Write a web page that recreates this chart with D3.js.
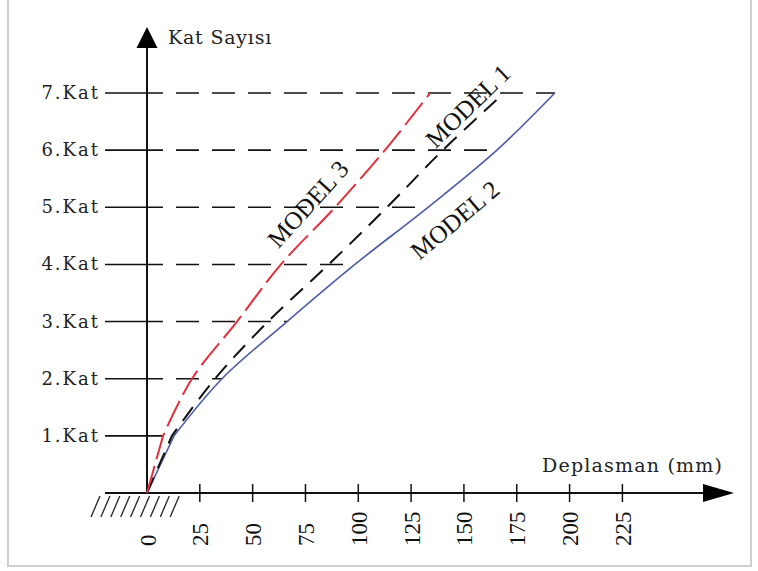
<!DOCTYPE html>
<html><head><meta charset="utf-8">
<script src="https://cdn.jsdelivr.net/npm/d3@7"></script>
<style>body{margin:0;background:#fff}svg{display:block}</style>
</head><body>
<script>
const floors = [0,1,2,3,4,5,6,7];
const floorLabels = ["","1.Kat","2.Kat","3.Kat","4.Kat","5.Kat","6.Kat","7.Kat"];
const xTicks = [0,25,50,75,100,125,150,175,200,225];
const model1 = [0,11.8,32.2,57.3,86,113.6,140,169];   // black dashed
const model2 = [0,12.8,35.5,66.3,98.4,133,165.6,193]; // blue solid
const model3 = [0,7.6,21.3,42.6,63.4,89,112.6,134];   // red dashed
const seriesNames = ["MODEL 1","MODEL 2","MODEL 3"];

const W=758,H=571;
const svg=d3.select("body").append("svg").attr("width",W).attr("height",H);
svg.append("rect").attr("x",8).attr("y",-2).attr("width",743).attr("height",568)
  .attr("fill","#fff").attr("stroke","#cfcfcf").attr("stroke-width",2);

const x=d3.scaleLinear().domain([0,225]).range([147,622.4]);
const y=d3.scaleLinear().domain([0,7]).range([493,93]);
const serif="'DejaVu Serif', serif";
const times="'Liberation Serif', 'Times New Roman', serif";

// floor reference lines
const fl = floors.slice(1);
const g = svg.append("g");
g.selectAll(".solid").data(fl).join("line")
  .attr("x1",105).attr("x2",d=>Math.min(163,x(model2[d]))).attr("y1",d=>y(d)).attr("y2",d=>y(d))
  .attr("stroke","#111").attr("stroke-width",1.6);
g.selectAll(".dash").data(fl.filter(d=>x(model2[d])>163)).join("line")
  .attr("x1",163).attr("x2",d=>x(model2[d])).attr("y1",d=>y(d)).attr("y2",d=>y(d))
  .attr("stroke","#111").attr("stroke-width",1.6).attr("stroke-dasharray","23,13").attr("stroke-dashoffset",-13);
g.selectAll(".flab").data(fl).join("text")
  .attr("x",100).attr("y",d=>y(d)+6).attr("text-anchor","end")
  .attr("font-family",serif).attr("font-size",18).attr("letter-spacing",2).attr("fill","#222")
  .text(d=>floorLabels[d]);

// axes
svg.append("line").attr("x1",x(0)).attr("x2",x(0)).attr("y1",y(0)).attr("y2",45).attr("stroke","#111").attr("stroke-width",2);
svg.append("path").attr("d",`M${x(0)},27 L${x(0)+10.5},48 L${x(0)-10.5},48 Z`).attr("fill","#000");
svg.append("line").attr("x1",105).attr("x2",706).attr("y1",y(0)).attr("y2",y(0)).attr("stroke","#111").attr("stroke-width",2);
svg.append("path").attr("d",`M734,${y(0)} L703,${y(0)-9} L703,${y(0)+9} Z`).attr("fill","#000");

// hatch
for(let i=0;i<9;i++){
  const bx=91+i*9.9;
  svg.append("line").attr("x1",bx).attr("y1",517).attr("x2",bx+9).attr("y2",496).attr("stroke","#222").attr("stroke-width",1.3);
}

// x ticks
const xt = xTicks.filter(d=>d>0);
svg.selectAll(".xt").data(xt).join("line")
  .attr("x1",d=>x(d)).attr("x2",d=>x(d)).attr("y1",484).attr("y2",502).attr("stroke","#111").attr("stroke-width",1.5);
svg.selectAll(".xl").data(xTicks).join("text")
  .attr("transform",d=>`translate(${x(d)+1},546) rotate(-90)`)
  .attr("dominant-baseline","central").attr("text-anchor","start")
  .attr("font-family",times).attr("font-size",23).attr("fill","#111")
  .text(d=>d);

// axis titles
svg.append("text").attr("x",168).attr("y",44).attr("font-family",serif).attr("font-size",19).attr("letter-spacing",0.8).attr("fill","#222").text("Kat Sayısı");
svg.append("text").attr("x",542).attr("y",472).attr("font-family",serif).attr("font-size",19).attr("letter-spacing",1.2).attr("fill","#222").text("Deplasman (mm)");

// curves: straight from base to 1st floor, smooth above
const smooth=d3.line().x(d=>d[0]).y(d=>d[1]).curve(d3.curveCatmullRom.alpha(0.5));
const pathOf=(arr)=>{
  const pts=floors.map((f,i)=>[x(arr[i]),y(f)]);
  return `M${pts[0][0]},${pts[0][1]}`+smooth(pts.slice(1)).replace(/^M/,"L");
};
svg.append("path").attr("d",pathOf(model2)).attr("fill","none").attr("stroke","#4b5ba6").attr("stroke-width",1.6);
svg.append("path").attr("d",pathOf(model1)).attr("fill","none").attr("stroke","#111").attr("stroke-width",2).attr("stroke-dasharray","17,10");
svg.append("path").attr("d",pathOf(model3)).attr("fill","none").attr("stroke","#e0303c").attr("stroke-width",2).attr("stroke-dasharray","28,7");

// model labels
const labs=[{t:seriesNames[2],cx:308,cy:204,a:-48},{t:seriesNames[0],cx:468,cy:106,a:-44},{t:seriesNames[1],cx:455,cy:220,a:-40}];
svg.selectAll(".ml").data(labs).join("text")
  .attr("transform",d=>`translate(${d.cx},${d.cy}) rotate(${d.a})`)
  .attr("text-anchor","middle").attr("dominant-baseline","central")
  .attr("font-family",times).attr("font-size",25).attr("fill","#111").text(d=>d.t);
</script>
</body></html>
